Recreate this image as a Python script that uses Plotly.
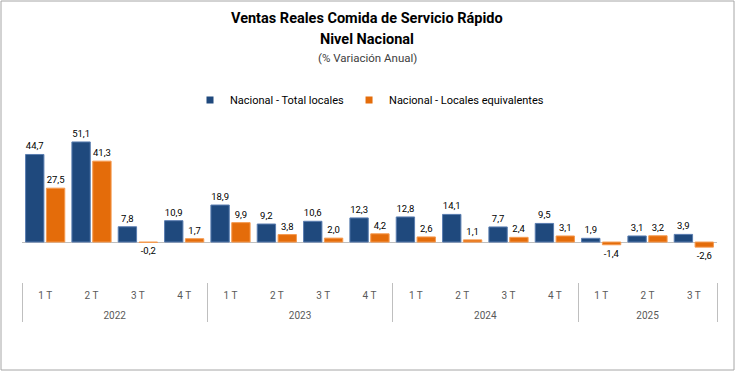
import plotly.graph_objects as go

years = ["2022"] * 4 + ["2023"] * 4 + ["2024"] * 4 + ["2025"] * 3
quarters = ["1 T", "2 T", "3 T", "4 T"] * 3 + ["1 T", "2 T", "3 T"]
total_locales = [44.7, 51.1, 7.8, 10.9, 18.9, 9.2, 10.6, 12.3, 12.8, 14.1, 7.7, 9.5, 1.9, 3.1, 3.9]
locales_equiv = [27.5, 41.3, -0.2, 1.7, 9.9, 3.8, 2.0, 4.2, 2.6, 1.1, 2.4, 3.1, -1.4, 3.2, -2.6]
series_names = ["Nacional - Total locales", "Nacional - Locales equivalentes"]
series_colors = ["#1F497D", "#E46C0A"]
series_edges = ["#5A7DB0", "#F59A50"]

FONT = "Roboto, Liberation Sans, sans-serif"
W, H = 736, 372
L, R, T, B = 22, 19, 120, 90
pw = W - L - R
ph = H - T - B

def px_x(x):
    return (x - L) / pw

def px_y(y):
    return (H - B - y) / ph

# quarter labels get an extra blank line so the year row sits lower, as in the reference
quarter_labels = [q + "<br> " for q in quarters]

fig = go.Figure()
for vals, name, col, edge in zip([total_locales, locales_equiv], series_names, series_colors, series_edges):
    fig.add_trace(go.Bar(
        x=[years, quarter_labels], y=vals, name=name, showlegend=False,
        marker=dict(color=col, line=dict(color=edge, width=1)),
        texttemplate="%{y:.1f}", textposition="outside", cliponaxis=False,
        textfont=dict(family=FONT, size=9.5, color="#000000"),
    ))
# legend entries with small square swatches
for name, col in zip(series_names, series_colors):
    fig.add_trace(go.Scatter(
        x=[years[:1], quarter_labels[:1]], y=[None], mode="markers", name=name,
        marker=dict(symbol="square", size=7, color=col), showlegend=True,
    ))

fig.update_layout(
    width=W, height=H,
    margin=dict(l=L, r=R, t=T, b=B, autoexpand=False),
    paper_bgcolor="white", plot_bgcolor="white",
    separators=",.",
    barmode="group", bargap=0.1, bargroupgap=0.12,
    font=dict(family=FONT, size=10, color="#404040"),
    showlegend=True,
    legend=dict(orientation="h", x=0.5, xanchor="center", y=px_y(100), yanchor="middle",
                font=dict(family=FONT, size=11, color="#000000"),
                itemwidth=30, traceorder="normal", tracegroupgap=0),
    xaxis=dict(type="multicategory", showgrid=False, showline=False, ticks="",
               automargin=False, range=[-0.5, len(quarters) - 0.5], autorange=False,
               ticklabelstandoff=6,
               tickfont=dict(family=FONT, size=10, color="#595959"),
               dividercolor="#BFBFBF", dividerwidth=1),
    yaxis=dict(range=[-20.4, 62.3], showgrid=False, showticklabels=False, ticks="",
               automargin=False,
               zeroline=True, zerolinecolor="#BFBFBF", zerolinewidth=1, showline=False),
    shapes=[dict(type="rect", xref="paper", yref="paper",
                 x0=px_x(1), x1=px_x(734), y0=px_y(370), y1=px_y(1),
                 line=dict(color="#A6A6A6", width=1), layer="below")],
    annotations=[
        dict(text="<b>Ventas Reales Comida de Servicio Rápido</b>", xref="paper", yref="paper",
             x=px_x(367), y=px_y(18), showarrow=False, xanchor="center", yanchor="middle",
             font=dict(family=FONT, size=14.5, color="#000000")),
        dict(text="<b>Nivel Nacional</b>", xref="paper", yref="paper",
             x=px_x(367), y=px_y(39), showarrow=False, xanchor="center", yanchor="middle",
             font=dict(family=FONT, size=14.5, color="#000000")),
        dict(text="(% Variación Anual)", xref="paper", yref="paper",
             x=px_x(367), y=px_y(58), showarrow=False, xanchor="center", yanchor="middle",
             font=dict(family=FONT, size=11.5, color="#404040")),
    ],
)

fig.write_html("out.html", config={"displayModeBar": False},
               post_script="document.body.style.margin='0';document.body.style.overflow='hidden';")
